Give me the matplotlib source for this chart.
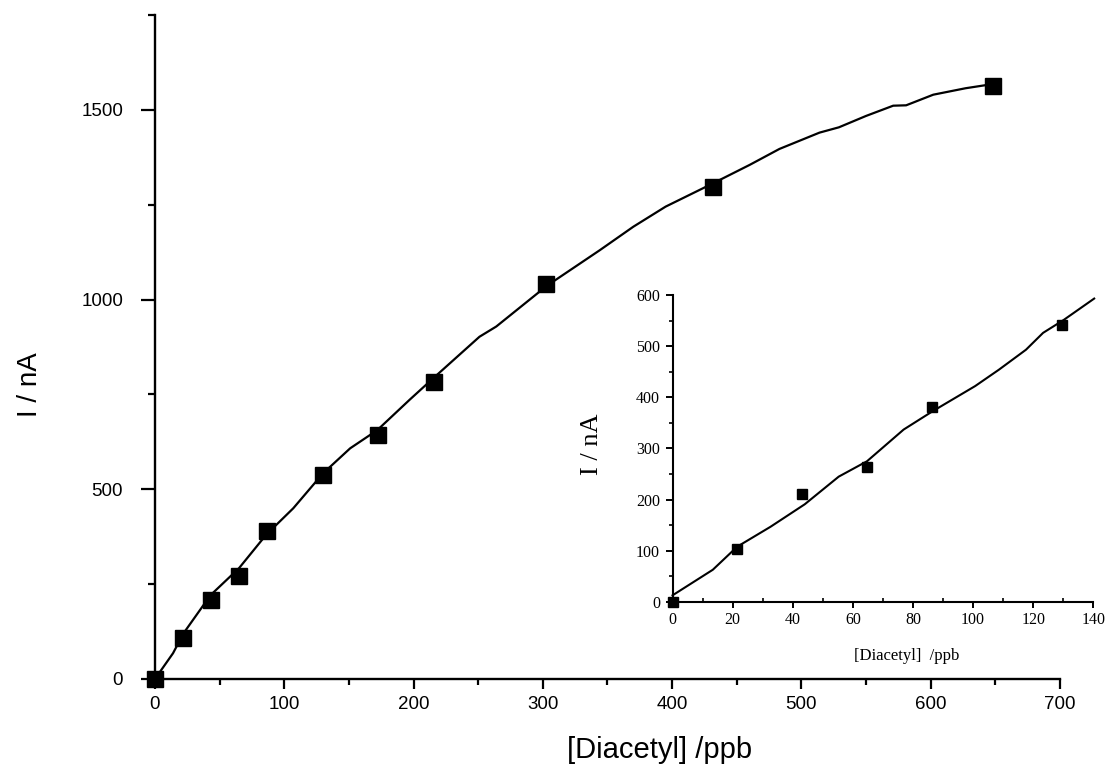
import numpy as np
import matplotlib
matplotlib.use('Agg')
import matplotlib.pyplot as plt
from matplotlib.ticker import MultipleLocator

# Calibration data: current vs diacetyl concentration (full range)
conc_ppb = [0, 21.6, 43.2, 64.8, 86.4, 129.6, 172.8, 216, 302.4, 432, 648]
current_nA = [0, 108, 208, 272, 389, 537, 642, 782, 1041, 1298, 1562]

# Fitted curve through the full-range points
fit_x = [0, 14, 22, 43, 65, 86, 107, 130, 151, 172, 197, 216, 251, 264, 303,
         344, 370, 395, 432, 460, 483, 514, 529, 550, 571, 581, 602, 627, 648]
fit_y = [0, 68, 120, 221, 292, 380, 450, 542, 608, 656, 736, 795, 902, 929, 1036,
         1130, 1192, 1245, 1307, 1355, 1397, 1440, 1454, 1484, 1511, 1512, 1540, 1557, 1568]

# Low-concentration region (inset)
low_conc = [0, 21.6, 43.2, 64.8, 86.4, 129.6]
low_current = [0, 103, 211, 264, 382, 541]
low_fit_x = [0, 13.4, 21.5, 32.6, 44, 55.3, 64.7, 76.9, 86.6, 100.7, 108.6, 117.6, 123.3, 130.1, 140.3]
low_fit_y = [13, 63, 108, 147, 191, 245, 275, 337, 373, 422, 454, 493, 526, 551, 593]

sans = 'Liberation Sans'
serif = 'Liberation Serif'

fig = plt.figure(figsize=(11.14, 7.66), dpi=100)

# -- main plot --
ax = fig.add_axes([0.1391, 0.1136, 0.8124, 0.8668])
ax.plot(fit_x, fit_y, color='black', lw=1.6, zorder=2)
ax.plot(conc_ppb, current_nA, 's', color='black', ms=12, zorder=3, clip_on=False)

ax.set_xlim(0, 700)
ax.set_ylim(0, 1750)
ax.xaxis.set_major_locator(MultipleLocator(100))
ax.xaxis.set_minor_locator(MultipleLocator(50))
ax.yaxis.set_major_locator(MultipleLocator(500))
ax.yaxis.set_minor_locator(MultipleLocator(250))
for side in ['top', 'right']:
    ax.spines[side].set_visible(False)
for side in ['left', 'bottom']:
    ax.spines[side].set_linewidth(1.7)

ax.tick_params(axis='y', which='major', direction='out', length=10, width=1.6, pad=13)
ax.tick_params(axis='y', which='minor', direction='out', length=5, width=1.6)
ax.tick_params(axis='x', which='major', direction='out', length=7, width=1.6, pad=5)
ax.tick_params(axis='x', which='minor', direction='out', length=4, width=1.6)
for lbl in ax.get_xticklabels() + ax.get_yticklabels():
    lbl.set_fontfamily(sans)
    lbl.set_fontsize(13.5)

ax.set_xlabel('[Diacetyl] /ppb', fontfamily=sans, fontsize=21)
ax.xaxis.set_label_coords(0.558, -0.086)
ax.set_ylabel('I / nA', fontfamily=sans, fontsize=20)
ax.yaxis.set_label_coords(-0.124, 0.443)

# -- inset: low concentration range --
ins = fig.add_axes([0.6037, 0.2141, 0.3777, 0.4008])
ins.set_facecolor('none')
ins.plot(low_fit_x, low_fit_y, color='black', lw=1.5, zorder=2, clip_on=False)
ins.plot(low_conc, low_current, 's', color='black', ms=6.5, zorder=3, clip_on=False)

ins.set_xlim(0, 140)
ins.set_ylim(0, 600)
ins.xaxis.set_major_locator(MultipleLocator(20))
ins.xaxis.set_minor_locator(MultipleLocator(10))
ins.yaxis.set_major_locator(MultipleLocator(100))
ins.yaxis.set_minor_locator(MultipleLocator(50))
for side in ['top', 'right']:
    ins.spines[side].set_visible(False)
for side in ['left', 'bottom']:
    ins.spines[side].set_linewidth(1.5)

ins.tick_params(axis='y', which='major', direction='out', length=5, width=1.4, pad=4)
ins.tick_params(axis='y', which='minor', direction='out', length=3, width=1.2)
ins.tick_params(axis='x', which='major', direction='out', length=4, width=1.4, pad=3)
ins.tick_params(axis='x', which='minor', direction='in', length=3, width=1.2)
for lbl in ins.get_xticklabels() + ins.get_yticklabels():
    lbl.set_fontfamily(serif)
    lbl.set_fontsize(11.5)

ins.set_xlabel('[Diacetyl]  /ppb', fontfamily=serif, fontsize=12)
ins.xaxis.set_label_coords(0.557, -0.150)
ins.set_ylabel('I / nA', fontfamily=serif, fontsize=19)
ins.yaxis.set_label_coords(-0.165, 0.515)

fig.savefig('out.png', dpi=100)
